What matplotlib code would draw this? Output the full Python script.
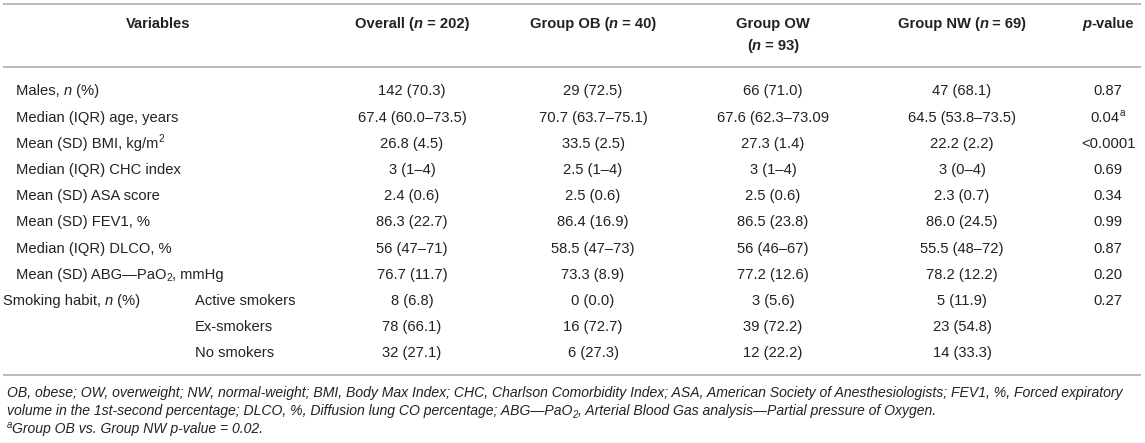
import re
import matplotlib
matplotlib.use("Agg")
import matplotlib.pyplot as plt

# ---------------- data ----------------
headers = ["Variables", "Overall ({i:n} = 202)", "Group OB ({i:n} = 40)",
           "Group OW\n({i:n} = 93)", "Group NW ({i:n} = 69)", "{i:p}-value"]
row_labels = ["Males, {i:n} (%)", "Median (IQR) age, years", "Mean (SD) BMI, kg/m{sup:2}",
              "Median (IQR) CHC index", "Mean (SD) ASA score", "Mean (SD) FEV1, %",
              "Median (IQR) DLCO, %", "Mean (SD) ABG\u2014PaO{sub:2}, mmHg",
              "Smoking habit, {i:n} (%)"]
smoking_sub = ["Active smokers", "Ex-smokers", "No smokers"]
overall = ["142 (70.3)", "67.4 (60.0\u201373.5)", "26.8 (4.5)", "3 (1\u20134)", "2.4 (0.6)",
           "86.3 (22.7)", "56 (47\u201371)", "76.7 (11.7)", "8 (6.8)", "78 (66.1)", "32 (27.1)"]
group_ob = ["29 (72.5)", "70.7 (63.7\u201375.1)", "33.5 (2.5)", "2.5 (1\u20134)", "2.5 (0.6)",
            "86.4 (16.9)", "58.5 (47\u201373)", "73.3 (8.9)", "0 (0.0)", "16 (72.7)", "6 (27.3)"]
group_ow = ["66 (71.0)", "67.6 (62.3\u201373.09", "27.3 (1.4)", "3 (1\u20134)", "2.5 (0.6)",
            "86.5 (23.8)", "56 (46\u201367)", "77.2 (12.6)", "3 (5.6)", "39 (72.2)", "12 (22.2)"]
group_nw = ["47 (68.1)", "64.5 (53.8\u201373.5)", "22.2 (2.2)", "3 (0\u20134)", "2.3 (0.7)",
            "86.0 (24.5)", "55.5 (48\u201372)", "78.2 (12.2)", "5 (11.9)", "23 (54.8)", "14 (33.3)"]
p_values = ["0.87", "0.04{sup:a}", "<0.0001", "0.69", "0.34", "0.99", "0.87", "0.20", "0.27", "", ""]
footnotes = [
    "OB, obese; OW, overweight; NW, normal-weight; BMI, Body Max Index; CHC, Charlson Comorbidity Index; "
    "ASA, American Society of Anesthesiologists; FEV1, %, Forced expiratory",
    "volume in the 1st-second percentage; DLCO, %, Diffusion lung CO percentage; ABG\u2014PaO{sub:2}, "
    "Arterial Blood Gas analysis\u2014Partial pressure of Oxygen.",
    "{sup:a}Group OB vs. Group NW p-value = 0.02.",
]

# ---------------- layout ----------------
W, H = 1145, 443
FONT = "Liberation Sans"
FS = 10.6
COLOR = "#222222"
RULE = "#b4b4b4"

fig = plt.figure(figsize=(W / 100, H / 100), dpi=100)
ax = fig.add_axes([0, 0, 1, 1])
ax.set_xlim(0, W)
ax.set_ylim(H, 0)
ax.axis("off")
renderer = fig.canvas.get_renderer()


def parse(s):
    out = []
    pos = 0
    for m in re.finditer(r"\{(i|sup|sub):([^}]*)\}", s):
        if m.start() > pos:
            out.append((s[pos:m.start()], None))
        out.append((m.group(2), m.group(1)))
        pos = m.end()
    if pos < len(s):
        out.append((s[pos:], None))
    return out


def measure(txt, props):
    a = ax.text(0, 0, "|" + txt + "|", **props)
    b = ax.text(0, 0, "||", **props)
    w = a.get_window_extent(renderer).width - b.get_window_extent(renderer).width
    a.remove()
    b.remove()
    return w


def rich(x, y, s, ha="center", size=FS, weight="normal", italic=False):
    pieces = parse(s)
    em = size * 100 / 72
    items = []
    for txt, kind in pieces:
        style = "italic" if (italic or kind == "i") else "normal"
        sz = size * 0.68 if kind in ("sup", "sub") else size
        dy = -0.36 * em if kind == "sup" else (0.18 * em if kind == "sub" else 0)
        props = dict(fontsize=sz, fontfamily=FONT, fontweight=weight, fontstyle=style,
                     color=COLOR, va="baseline", ha="left")
        items.append((txt, props, dy, measure(txt, props)))
    total = sum(it[3] for it in items)
    cx = x - total / 2 if ha == "center" else x
    base = y + 0.36 * em
    for txt, props, dy, w in items:
        ax.text(cx, base + dy, txt, **props)
        cx += w
    return total


# rules
ax.hlines([4, 67, 375], 3, 1141, colors=RULE, linewidth=1.3)

# header
col_x = [158, 412, 593, 773, 962, 1108]
for cx, h in zip(col_x, headers):
    lines = h.split("\n")
    for k, ln in enumerate(lines):
        rich(cx, 23 + 22 * k, ln, weight="bold")

# body
row_y0, row_dy = 90, 26.2
n_rows = len(overall)
for i in range(n_rows):
    y = row_y0 + row_dy * i
    if i < len(row_labels) - 1:
        rich(16, y, row_labels[i], ha="left")
    elif i == len(row_labels) - 1:
        rich(3, y, row_labels[i], ha="left")
    if i >= len(row_labels) - 1:
        rich(195, y, smoking_sub[i - (len(row_labels) - 1)], ha="left")
    for cx, col in zip(col_x[1:], [overall, group_ob, group_ow, group_nw, p_values]):
        if col[i]:
            rich(cx, y, col[i])

# footnotes (italic), fit first line to width
fs_foot = 9.6
w0 = sum(measure(t, dict(fontsize=fs_foot, fontfamily=FONT, fontstyle="italic"))
         for t, k in parse(footnotes[0]))
fs_foot = fs_foot * (1131 / w0)
for k, fn in enumerate(footnotes):
    rich(7, 392 + 18 * k, fn, ha="left", size=fs_foot, italic=True)

fig.savefig("out.png", dpi=100)
